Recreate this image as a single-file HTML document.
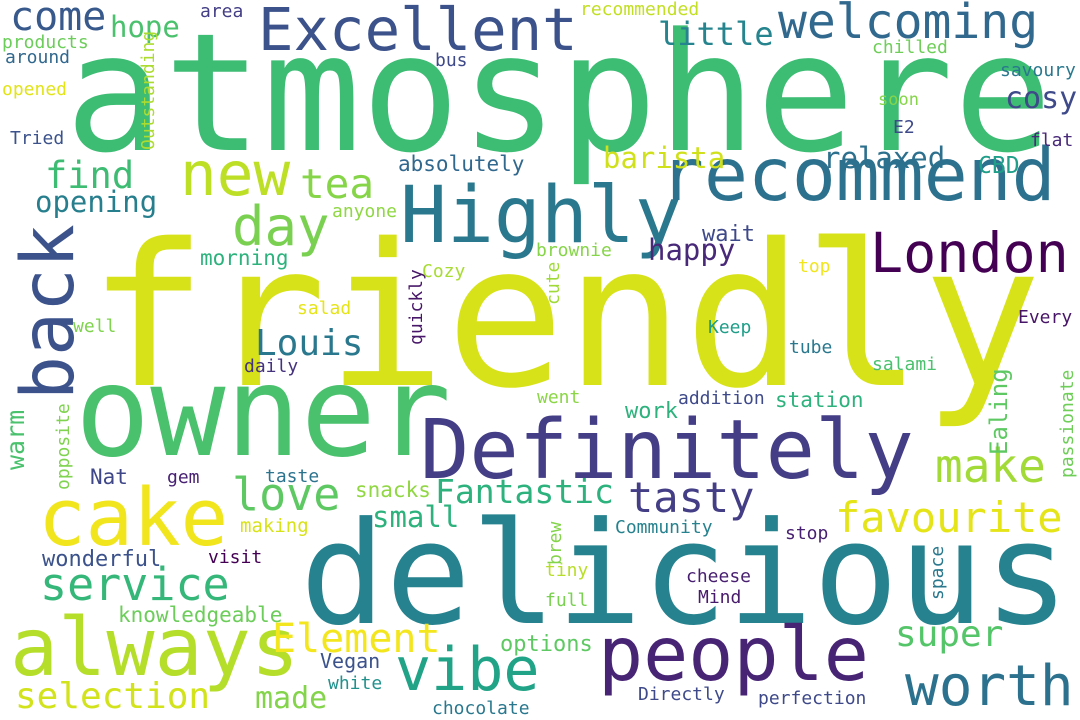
<!DOCTYPE html>
<html><head><meta charset="utf-8"><style>
html,body{margin:0;padding:0;background:#fff}
svg{display:block}
text{font-family:"DejaVu Sans Mono","Liberation Mono",monospace}
</style></head><body>
<svg width="1080" height="720" viewBox="0 0 1080 720">
<rect width="1080" height="720" fill="#fff"/>
<text x="65" y="150" font-size="164" fill="#3dbc74">atmosphere</text>
<text x="88" y="385" font-size="198" fill="#d8e219">friendly</text>
<text x="300" y="623" font-size="142" fill="#26828e">delicious</text>
<text x="75" y="455" font-size="125" fill="#4ac16d">owner</text>
<text x="420" y="478" font-size="82" fill="#433e85">Definitely</text>
<text x="400" y="242" font-size="78" fill="#2a788e">Highly</text>
<text x="660" y="200" font-size="73" fill="#2c728e">recommend</text>
<text x="870" y="272" font-size="55" fill="#440154">London</text>
<text x="258" y="50" font-size="59" fill="#3b528b">Excellent</text>
<text x="778" y="38" font-size="48" fill="#31688e">welcoming</text>
<text x="10" y="30" font-size="40" fill="#38598c">come</text>
<text x="110" y="37" font-size="29" fill="#4ac16d">hope</text>
<text x="180" y="195" font-size="61" fill="#bddf26">new</text>
<text x="300" y="198" font-size="41" fill="#86d549">tea</text>
<text x="232" y="245" font-size="54" fill="#7ad151">day</text>
<text x="45" y="188" font-size="37" fill="#3fbc73">find</text>
<text x="35" y="212" font-size="29" fill="#277f8e">opening</text>
<text transform="translate(73,400) rotate(-90)" font-size="73" fill="#3b528b">back</text>
<text x="658" y="45" font-size="32" fill="#25848e">little</text>
<text x="1005" y="108" font-size="30" fill="#3e4a89">cosy</text>
<text x="823" y="168" font-size="29" fill="#2d708e">relaxed</text>
<text x="978" y="173" font-size="23" fill="#1f9e89">CBD</text>
<text x="603" y="168" font-size="29" fill="#d0e11c">barista</text>
<text x="398" y="171" font-size="21" fill="#31688e">absolutely</text>
<text x="648" y="260" font-size="29" fill="#482878">happy</text>
<text x="702" y="241" font-size="22" fill="#3e4989">wait</text>
<text x="200" y="265" font-size="21" fill="#2db27d">morning</text>
<text x="255" y="355" font-size="36" fill="#2a788e">Louis</text>
<text x="232" y="510" font-size="45" fill="#5ec962">love</text>
<text x="435" y="503" font-size="33" fill="#2db27d">Fantastic</text>
<text x="628" y="512" font-size="42" fill="#433e85">tasty</text>
<text x="935" y="482" font-size="46" fill="#a2da37">make</text>
<text x="835" y="532" font-size="42" fill="#e5e419">favourite</text>
<text x="38" y="545" font-size="79" fill="#f1e51d">cake</text>
<text x="40" y="600" font-size="45" fill="#35b779">service</text>
<text x="10" y="675" font-size="80" fill="#b5de2b">always</text>
<text x="15" y="708" font-size="36" fill="#d2e21b">selection</text>
<text x="395" y="690" font-size="60" fill="#20a386">vibe</text>
<text x="598" y="680" font-size="75" fill="#482475">people</text>
<text x="905" y="705" font-size="56" fill="#2c728e">worth</text>
<text x="895" y="646" font-size="36" fill="#54c568">super</text>
<text x="272" y="652" font-size="40" fill="#f4e61e">Element</text>
<text x="255" y="708" font-size="30" fill="#84d44b">made</text>
<text x="500" y="651" font-size="22" fill="#5ec962">options</text>
<text x="320" y="668" font-size="20" fill="#3b528b">Vegan</text>
<text x="328" y="689" font-size="18" fill="#21918c">white</text>
<text x="432" y="714" font-size="18" fill="#2a788e">chocolate</text>
<text x="638" y="700" font-size="18" fill="#3e4a89">Directly</text>
<text x="758" y="704" font-size="18" fill="#3e4989">perfection</text>
<text x="698" y="603" font-size="18" fill="#481a6c">Mind</text>
<text x="686" y="582" font-size="18" fill="#481f70">cheese</text>
<text x="545" y="606" font-size="18" fill="#7ad151">full</text>
<text x="545" y="576" font-size="18" fill="#b8de29">tiny</text>
<text x="208" y="563" font-size="18" fill="#440154">visit</text>
<text x="42" y="566" font-size="22" fill="#3b528b">wonderful</text>
<text x="118" y="622" font-size="21" fill="#6ccd5a">knowledgeable</text>
<text x="240" y="532" font-size="19" fill="#d8e219">making</text>
<text x="615" y="533" font-size="18" fill="#26828e">Community</text>
<text x="785" y="539" font-size="18" fill="#482071">stop</text>
<text transform="translate(943,600) rotate(-90)" font-size="18" fill="#2a788e">space</text>
<text transform="translate(561,565) rotate(-90)" font-size="18" fill="#84d44b">brew</text>
<text x="372" y="527" font-size="29" fill="#2db27d">small</text>
<text x="355" y="497" font-size="21" fill="#90d743">snacks</text>
<text x="167" y="483" font-size="18" fill="#482173">gem</text>
<text x="265" y="482" font-size="18" fill="#2c738e">taste</text>
<text x="90" y="484" font-size="21" fill="#3f4788">Nat</text>
<text transform="translate(24,470) rotate(-90)" font-size="25" fill="#4ac16d">warm</text>
<text transform="translate(69,490) rotate(-90)" font-size="18" fill="#7fd34e">opposite</text>
<text transform="translate(1007,455) rotate(-90)" font-size="24" fill="#5ec962">Ealing</text>
<text transform="translate(1073,478) rotate(-90)" font-size="18" fill="#6ece58">passionate</text>
<text x="775" y="407" font-size="21" fill="#2db27d">station</text>
<text x="678" y="404" font-size="18" fill="#3e4a89">addition</text>
<text x="537" y="403" font-size="18" fill="#8bd646">went</text>
<text x="625" y="418" font-size="22" fill="#2db27d">work</text>
<text x="872" y="370" font-size="18" fill="#4ac16d">salami</text>
<text x="789" y="353" font-size="18" fill="#2a788e">tube</text>
<text x="1018" y="323" font-size="18" fill="#481668">Every</text>
<text x="708" y="333" font-size="18" fill="#1f9e89">Keep</text>
<text transform="translate(422,345) rotate(-90)" font-size="18" fill="#481769">quickly</text>
<text transform="translate(559,305) rotate(-90)" font-size="18" fill="#a0da39">cute</text>
<text x="798" y="272" font-size="18" fill="#f1e51d">top</text>
<text x="297" y="314" font-size="18" fill="#e5e419">salad</text>
<text x="73" y="332" font-size="18" fill="#7fd34e">well</text>
<text x="244" y="372" font-size="18" fill="#46337e">daily</text>
<text x="422" y="277" font-size="18" fill="#a8db34">Cozy</text>
<text x="536" y="256" font-size="18" fill="#86d549">brownie</text>
<text x="332" y="217" font-size="18" fill="#8fd744">anyone</text>
<text transform="translate(154,150) rotate(-90)" font-size="18" fill="#addc30">Outstanding</text>
<text x="10" y="144" font-size="18" fill="#3b528b">Tried</text>
<text x="2" y="95" font-size="18" fill="#e2e418">opened</text>
<text x="5" y="63" font-size="18" fill="#31688e">around</text>
<text x="2" y="48" font-size="18" fill="#6ccd5a">products</text>
<text x="200" y="17" font-size="18" fill="#433e85">area</text>
<text x="435" y="66" font-size="18" fill="#3e4989">bus</text>
<text x="580" y="15" font-size="18" fill="#c2df23">recommended</text>
<text x="872" y="53" font-size="18" fill="#6ece58">chilled</text>
<text x="1000" y="76" font-size="18" fill="#2a788e">savoury</text>
<text x="878" y="105" font-size="17" fill="#86d549">soon</text>
<text x="893" y="133" font-size="18" fill="#3e4a89">E2</text>
<text x="1030" y="146" font-size="18" fill="#482878">flat</text>
</svg>
</body></html>
